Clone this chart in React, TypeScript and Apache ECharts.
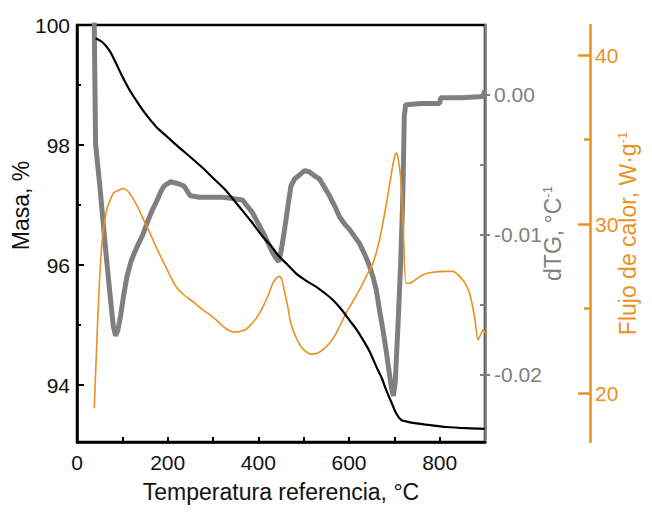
import React, { useEffect, useRef } from 'react';
import * as echarts from 'echarts';

// Temperature (°C) / mass (%)
const massT = [41, 55, 71, 85, 100, 115, 130, 150, 174, 200, 225, 250, 277, 300, 325, 358, 385, 410, 430, 446, 465, 483, 505, 527, 545, 564, 582, 601, 616, 631, 646, 660, 672, 682, 693, 704, 715, 728, 741, 780, 815, 860, 899];
const massV = [99.78, 99.72, 99.58, 99.38, 99.14, 98.93, 98.75, 98.53, 98.31, 98.13, 97.96, 97.8, 97.62, 97.45, 97.27, 96.97, 96.72, 96.47, 96.3, 96.14, 96.0, 95.86, 95.74, 95.64, 95.54, 95.42, 95.27, 95.08, 94.93, 94.75, 94.55, 94.31, 94.12, 93.92, 93.72, 93.53, 93.42, 93.39, 93.37, 93.33, 93.3, 93.28, 93.27];

// Temperature (°C) / dTG (°C^-1)
const dtgT = [38, 41, 45, 50, 56, 63, 69, 74, 80, 85, 90, 96, 103, 110, 120, 133, 145, 155, 165, 177, 185, 192, 206, 220, 236, 250, 270, 295, 320, 345, 365, 387, 400, 410, 422, 432, 440, 445, 450, 457, 465, 472, 480, 491, 502, 513, 525, 535, 546, 557, 568, 579, 590, 601, 612, 623, 635, 645, 653, 660, 668, 675, 683, 690, 694, 698, 702, 708, 714, 718, 720, 722, 725, 760, 800, 802, 850, 895, 900];
const dtgV = [0.0052, -0.0035, -0.0048, -0.0064, -0.0085, -0.011, -0.013, -0.0146, -0.0165, -0.0172, -0.0168, -0.0158, -0.0143, -0.013, -0.0118, -0.0108, -0.01, -0.0091, -0.0083, -0.0075, -0.0069, -0.0065, -0.0062, -0.0063, -0.0065, -0.0072, -0.0073, -0.0073, -0.0073, -0.0074, -0.0075, -0.0084, -0.0092, -0.0098, -0.0106, -0.0113, -0.0117, -0.0119, -0.0112, -0.0098, -0.008, -0.0065, -0.006, -0.0057, -0.0054, -0.0055, -0.0058, -0.006, -0.0066, -0.0072, -0.0079, -0.0087, -0.0092, -0.0096, -0.0101, -0.0106, -0.0114, -0.0122, -0.013, -0.0139, -0.0155, -0.0168, -0.0185, -0.0201, -0.021, -0.0215, -0.0205, -0.0165, -0.012, -0.008, -0.005, -0.0015, -0.0007, -0.0006, -0.0006, -0.0002, -0.0002, -0.0001, 0.0003];

// Temperature (°C) / heat flow (W·g^-1)
const hfT = [38, 42, 46, 50, 55, 60, 66, 73, 81, 92, 103, 114, 125, 136, 147, 162, 177, 199, 210, 221, 236, 258, 276, 295, 310, 324, 346, 372, 380, 395, 410, 422, 432, 440, 446, 452, 457, 465, 472, 483, 494, 505, 516, 530, 542, 557, 572, 594, 608, 623, 638, 653, 665, 675, 685, 693, 699, 704, 709, 715, 720, 726, 734, 741, 752, 763, 785, 815, 829, 844, 856, 866, 877, 885, 891, 896, 900];
const hfV = [19.1, 21.8, 24.5, 26.8, 28.9, 30.0, 30.9, 31.4, 31.85, 32.0, 32.1, 31.9, 31.45, 30.9, 30.25, 29.4, 28.5, 27.3, 26.7, 26.2, 25.8, 25.36, 24.95, 24.6, 24.25, 23.9, 23.6, 23.75, 23.95, 24.4, 25.1, 25.8, 26.5, 26.8, 26.9, 26.7, 26.1, 25.1, 24.1, 23.3, 22.75, 22.45, 22.3, 22.35, 22.55, 22.95, 23.55, 24.75, 25.4, 26.1, 26.9, 27.7, 28.8, 30.1, 31.6, 32.9, 33.8, 34.2, 33.8, 32.4, 29.5, 26.5, 26.5, 26.6, 26.8, 27.0, 27.15, 27.2, 27.2, 26.9, 26.5, 25.9, 24.5, 23.15, 23.5, 23.75, 23.55];

// Tick values
const xTickLabels = [0, 200, 400, 600, 800];
const xTicks = [100, 200, 300, 400, 500, 600, 700, 800];
const massTickLabels = [94, 96, 98, 100];
const massMajorTicks = [94, 96, 98];
const massMinorTicks = [95, 97, 99];
const dtgTickLabels = [-0.02, -0.01, 0];
const dtgInnerTicks = [-0.02, -0.015, -0.01, -0.005, 0];
const hfTickLabels = [20, 30, 40];
const hfMinorTicks = [25, 35];

const BLACK = '#000000';
const GRAY = '#7f7f7f';
const ORANGE = '#e8921f';
const FONT = '"Liberation Sans", Arial, sans-serif';
const TICK_FS = 21;
const NAME_FS = 23;

const zip = (a: number[], b: number[]) => a.map((v, i) => [v, b[i]]);

const MASS_MIN = 93.05, MASS_MAX = 100;
const DTG_MIN = -0.024786, DTG_MAX = 0.005;
const HF_MIN = 17.1, HF_MAX = 41.78;

export default function App() {
  const ref = useRef<HTMLDivElement>(null);
  useEffect(() => {
    const chart = echarts.init(ref.current!, null, { renderer: 'svg' });
    const hiddenBase = {
      axisLine: { show: false },
      axisLabel: { show: false },
      splitLine: { show: false },
    };
    chart.setOption({
      animation: false,
      backgroundColor: '#ffffff',
      textStyle: { fontFamily: FONT },
      grid: {
        left: 77, top: 25, right: 167, bottom: 70,
        show: true, borderColor: BLACK, borderWidth: 2.5,
        outerBoundsMode: 'none',
      },
      xAxis: {
        type: 'value', min: 0, max: 900,
        name: 'Temperatura referencia, °C',
        nameLocation: 'middle', nameGap: 38, nameMoveOverlap: false,
        nameTextStyle: { color: '#111', fontSize: NAME_FS, fontFamily: FONT },
        axisLine: { show: true, onZero: false, lineStyle: { color: BLACK, width: 2.5 } },
        axisTick: { show: true, inside: true, length: 5, customValues: xTicks, lineStyle: { color: BLACK, width: 2 } },
        axisLabel: { customValues: xTickLabels, color: '#111', fontSize: TICK_FS, margin: 10, fontFamily: FONT },
        splitLine: { show: false },
      },
      yAxis: [
        {
          type: 'value', min: MASS_MIN, max: MASS_MAX, position: 'left',
          name: 'Masa, %', nameLocation: 'middle', nameGap: 45, nameRotate: 90, nameMoveOverlap: false,
          nameTextStyle: { color: '#111', fontSize: NAME_FS, fontFamily: FONT, padding: [0, 0, 0, 56] },
          axisLine: { show: true, onZero: false, lineStyle: { color: BLACK, width: 2.5 } },
          axisTick: { show: true, inside: true, length: 7, customValues: massMajorTicks, lineStyle: { color: BLACK, width: 2 } },
          axisLabel: { customValues: massTickLabels, color: '#111', fontSize: TICK_FS, margin: 7, fontFamily: FONT },
          splitLine: { show: false },
        },
        {
          type: 'value', min: DTG_MIN, max: DTG_MAX, position: 'right', offset: 0,
          name: 'dTG, °C{sup|-1}', nameLocation: 'middle', nameGap: 56, nameRotate: 90, nameMoveOverlap: false,
          nameTextStyle: {
            color: GRAY, fontSize: NAME_FS, fontFamily: FONT,
            rich: { sup: { fontSize: 13, color: GRAY, verticalAlign: 'top', fontFamily: FONT } },
          },
          axisLine: { show: true, onZero: false, lineStyle: { color: GRAY, width: 2.5 } },
          axisTick: { show: true, inside: true, length: 5, customValues: dtgInnerTicks, lineStyle: { color: GRAY, width: 2 } },
          axisLabel: {
            customValues: dtgTickLabels, color: GRAY, fontSize: TICK_FS, margin: 9, fontFamily: FONT,
            formatter: (v: number) => (Math.abs(v) < 1e-9 ? '0.00' : v.toFixed(2)),
          },
          splitLine: { show: false },
        },
        {
          type: 'value', min: HF_MIN, max: HF_MAX, position: 'right', offset: 105,
          name: 'Flujo de calor, W·g{sup|-1}', nameLocation: 'middle', nameGap: 26, nameRotate: 90, nameMoveOverlap: false,
          nameTextStyle: {
            color: ORANGE, fontSize: NAME_FS, fontFamily: FONT,
            rich: { sup: { fontSize: 13, color: ORANGE, verticalAlign: 'top', fontFamily: FONT } },
          },
          axisLine: { show: true, onZero: false, lineStyle: { color: ORANGE, width: 2.5 } },
          axisTick: { show: true, inside: true, length: 12, customValues: hfTickLabels, lineStyle: { color: ORANGE, width: 2.5 } },
          axisLabel: { customValues: hfTickLabels, color: ORANGE, fontSize: TICK_FS, margin: 5, fontFamily: FONT },
          splitLine: { show: false },
        },
        {
          ...hiddenBase, type: 'value', min: MASS_MIN, max: MASS_MAX, position: 'left', offset: 0,
          axisTick: { show: true, inside: true, length: 4, customValues: massMinorTicks, lineStyle: { color: BLACK, width: 2 } },
        },
        {
          ...hiddenBase, type: 'value', min: DTG_MIN, max: DTG_MAX, position: 'right', offset: 0,
          axisTick: { show: true, inside: false, length: 5, customValues: dtgTickLabels, lineStyle: { color: GRAY, width: 2 } },
        },
        {
          ...hiddenBase, type: 'value', min: HF_MIN, max: HF_MAX, position: 'right', offset: 105,
          axisTick: { show: true, inside: true, length: 6, customValues: hfMinorTicks, lineStyle: { color: ORANGE, width: 2.5 } },
        },
      ],
      series: [
        {
          name: 'dTG', type: 'line', yAxisIndex: 1, data: zip(dtgT, dtgV),
          showSymbol: false, lineStyle: { color: GRAY, width: 5 }, z: 2,
        },
        {
          name: 'Flujo de calor', type: 'line', yAxisIndex: 2, data: zip(hfT, hfV),
          showSymbol: false, smooth: 0.3, lineStyle: { color: ORANGE, width: 1.6 }, z: 3,
        },
        {
          name: 'Masa', type: 'line', yAxisIndex: 0, data: zip(massT, massV),
          showSymbol: false, smooth: 0.3, lineStyle: { color: BLACK, width: 2.2 }, z: 4,
        },
      ],
    });
    return () => chart.dispose();
  }, []);
  return <div ref={ref} style={{ position: 'absolute', left: 0, top: 0, width: 652, height: 512 }} />;
}
